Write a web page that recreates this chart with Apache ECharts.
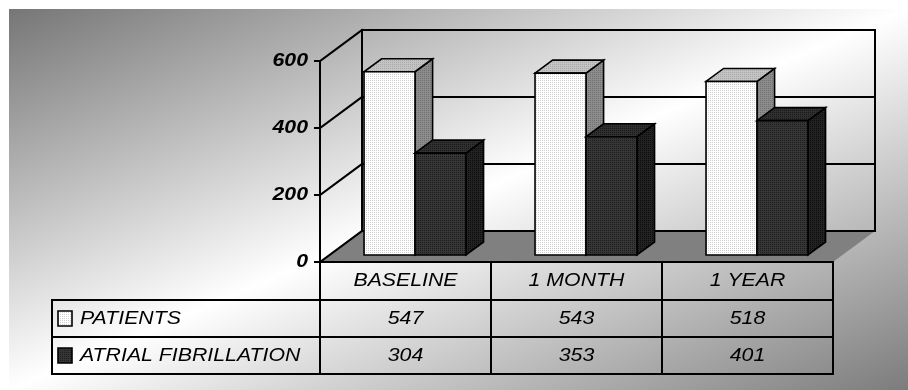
<!DOCTYPE html>
<html>
<head>
<meta charset="utf-8">
<script src="https://cdn.jsdelivr.net/npm/echarts@6/dist/echarts.min.js"></script>
<style>
  html, body { margin: 0; padding: 0; background: #ffffff; }
  #chart { width: 908px; height: 390px; }
</style>
</head>
<body>
<div id="chart"></div>
<script>
// ---- data ----
const categories = ['BASELINE', '1 MONTH', '1 YEAR'];
const patients = [547, 543, 518];
const atrialFibrillation = [304, 353, 401];
const seriesNames = ['PATIENTS', 'ATRIAL FIBRILLATION'];
const yTicks = [0, 200, 400, 600];

// ---- layout / style ----
const DX = 42, DY = -31;            // floor depth (oblique projection)
const FRONT = 0.226, BACK = 0.645;  // depth span of the bars within the floor
const BAR_FRAC = 0.298;             // bar width as a share of the category band
const ROW_Y = [281, 318.5, 355.5];  // text rows of the data table
const ROW_LINES = [300, 337, 374];  // horizontal rules of the data table
const TABLE_LEFT = 52;
const STRETCH = 1.12;               // horizontal stretch applied to all text
const FONT = '"Liberation Sans", Arial, sans-serif';

function dotPattern(base, dot) {
  const c = document.createElement('canvas');
  c.width = 2; c.height = 2;
  const g = c.getContext('2d');
  g.fillStyle = base; g.fillRect(0, 0, 2, 2);
  g.fillStyle = dot; g.fillRect(0, 0, 1, 1);
  return { image: c, repeat: 'repeat' };
}

const FACES = [
  { front: dotPattern('#ffffff', '#d0d0d0'), top: dotPattern('#c4c4c4', '#a8a8a8'), side: dotPattern('#8c8c8c', '#707070') },
  { front: dotPattern('#363636', '#1c1c1c'), top: dotPattern('#303030', '#181818'), side: dotPattern('#222222', '#0c0c0c') }
];

function stretchedText(x, y, text, font, align) {
  return {
    type: 'text', x: x, y: y, scaleX: STRETCH,
    style: { text: text, font: font, fill: '#000', align: align, verticalAlign: 'middle' }
  };
}

function line(a, b, c, d, w) {
  return { type: 'line', shape: { x1: a, y1: b, x2: c, y2: d }, style: { stroke: '#000', lineWidth: w || 2, lineCap: 'square' } };
}

// walls, floor, axis labels and the data table frame
function renderFrame(params, api) {
  const band = api.size([1, 0])[0];
  const x0 = api.coord([0, 0])[0] - band / 2;
  const x1 = api.coord([categories.length - 1, 0])[0] + band / 2;
  const yOf = v => api.coord([0, v])[1];
  const yBase = yOf(0);
  const yTop = yOf(yTicks[yTicks.length - 1]);
  const ch = [];

  ch.push({ type: 'polygon', shape: { points: [[x0, yBase], [x1, yBase], [x1 + DX, yBase + DY], [x0 + DX, yBase + DY]] },
            style: { fill: '#808080' } });

  yTicks.forEach(v => {
    const y = yOf(v);
    ch.push(line(x0, y, x0 + DX, y + DY));
    ch.push(line(x0 + DX, y + DY, x1 + DX, y + DY));
    ch.push(line(x0 - 5, y, x0, y));
    ch.push(stretchedText(x0 - 12, y, String(v), 'italic bold 19px ' + FONT, 'right'));
  });
  ch.push(line(x0 + DX, yTop + DY, x0 + DX, yBase + DY));
  ch.push(line(x1 + DX, yTop + DY, x1 + DX, yBase + DY));

  // value axis and table grid
  const tableBottom = ROW_LINES[ROW_LINES.length - 1];
  ch.push(line(x0, yTop, x0, tableBottom));
  ch.push(line(x0, yBase, x1, yBase));
  ROW_LINES.forEach(y => ch.push(line(TABLE_LEFT, y, x1, y)));
  ch.push(line(TABLE_LEFT, ROW_LINES[0], TABLE_LEFT, tableBottom));
  for (let i = 0; i < categories.length; i++) {
    const cx = api.coord([i, 0])[0];
    ch.push(line(cx + band / 2, yBase, cx + band / 2, tableBottom));
    ch.push(stretchedText(cx, ROW_Y[0], categories[i], 'italic 19px ' + FONT, 'center'));
  }

  // legend keys and series names
  seriesNames.forEach((name, s) => {
    const yc = ROW_Y[s + 1];
    ch.push({ type: 'rect', shape: { x: 58, y: yc - 7.5, width: 14, height: 15 },
              style: { fill: FACES[s].front, stroke: '#000', lineWidth: 1.6 } });
    ch.push(stretchedText(80, yc, name, 'italic 19px ' + FONT, 'left'));
  });

  return { type: 'group', children: ch };
}

function barRenderer(s) {
  return function (params, api) {
    const i = api.value(0), v = api.value(1);
    const band = api.size([1, 0])[0];
    const w = band * BAR_FRAC;
    const base = api.coord([i, 0]);
    const top = api.coord([i, v]);
    const fx = DX * FRONT, fy = DY * FRONT;
    const ddx = DX * (BACK - FRONT), ddy = DY * (BACK - FRONT);
    const left = base[0] - w + s * w + fx;
    const right = left + w;
    const yb = base[1] + fy, yt = top[1] + fy;
    const stroke = { stroke: '#000', lineWidth: 1.6, lineJoin: 'miter' };
    const f = FACES[s];
    return {
      type: 'group',
      children: [
        { type: 'polygon', shape: { points: [[right, yt], [right + ddx, yt + ddy], [right + ddx, yb + ddy], [right, yb]] },
          style: Object.assign({ fill: f.side }, stroke) },
        { type: 'polygon', shape: { points: [[left, yt], [left + ddx, yt + ddy], [right + ddx, yt + ddy], [right, yt]] },
          style: Object.assign({ fill: f.top }, stroke) },
        { type: 'rect', shape: { x: left, y: yt, width: w, height: yb - yt },
          style: Object.assign({ fill: f.front }, stroke) },
        stretchedText(base[0], ROW_Y[s + 1], String(v), 'italic 19px ' + FONT, 'center')
      ]
    };
  };
}

const chart = echarts.init(document.getElementById('chart'), null, { renderer: 'canvas' });
chart.setOption({
  animation: false,
  backgroundColor: '#ffffff',
  graphic: [{
    type: 'rect', x: 9, y: 9, scaleX: 8.99, scaleY: 3.81, z: -10, silent: true,
    shape: { x: 0, y: 0, width: 100, height: 100 },
    style: {
      fill: new echarts.graphic.LinearGradient(0, 0, 1, 1, [
        { offset: 0, color: '#767676' },
        { offset: 0.5, color: '#ffffff' },
        { offset: 1, color: '#7c7c7c' }
      ])
    }
  }],
  grid: { left: 320, right: 75, top: 61, bottom: 128 },
  xAxis: {
    type: 'category', data: categories,
    axisLine: { show: false }, axisTick: { show: false }, axisLabel: { show: false }, splitLine: { show: false }
  },
  yAxis: {
    type: 'value', min: 0, max: 600, interval: 200,
    axisLine: { show: false }, axisTick: { show: false }, axisLabel: { show: false }, splitLine: { show: false }
  },
  series: [
    { type: 'custom', name: 'frame', renderItem: renderFrame, data: [[0, 0]], z: 1, silent: true },
    { type: 'custom', name: seriesNames[0], renderItem: barRenderer(0), data: patients.map((v, i) => [i, v]), z: 2 },
    { type: 'custom', name: seriesNames[1], renderItem: barRenderer(1), data: atrialFibrillation.map((v, i) => [i, v]), z: 3 }
  ]
});
</script>
</body>
</html>
